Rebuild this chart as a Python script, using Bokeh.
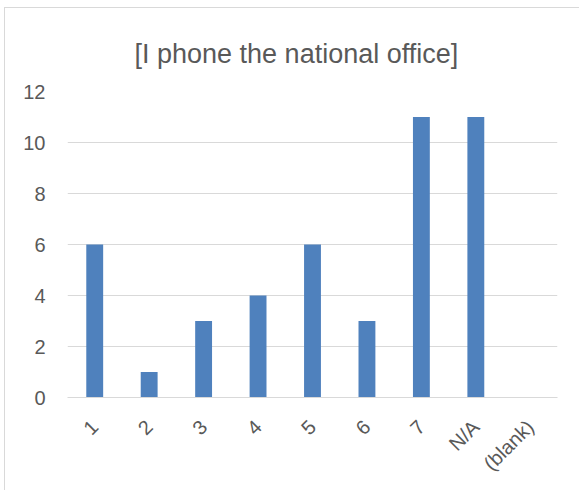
import math
import numpy as np
from bokeh.plotting import figure
from bokeh.models import ColumnDataSource, FixedTicker, Range1d
from bokeh.embed import file_html
from bokeh.resources import INLINE

# Responses to "[I phone the national office]"
categories = ["1", "2", "3", "4", "5", "6", "7", "N/A", "(blank)"]
counts = [6, 1, 3, 4, 6, 3, 11, 11, None]  # "(blank)" has no responses recorded
y_ticks = [0, 2, 4, 6, 8, 10, 12]

TEXT = "#595959"
GRID = "#D9D9D9"
BAR = "#4F81BD"
FONT = "Liberation Sans"

source = ColumnDataSource(dict(
    cat=categories,
    n=np.array([np.nan if c is None else c for c in counts], dtype=float),
))

p = figure(
    x_range=categories,
    y_range=Range1d(0, 12),
    width=575, height=483,
    output_backend="svg",
    toolbar_location=None,
    min_border_left=62, min_border_right=23,
    min_border_top=83, min_border_bottom=94,
    title="[I phone the national office]",
)
p.margin = (7, 0, 0, 4)
p.styles = {"border-top": "1px solid #D9D9D9", "border-left": "1px solid #D9D9D9"}

p.vbar(x="cat", top="n", width=0.31, source=source,
       fill_color=BAR, line_color=None)

# title
p.title.text_font = FONT
p.title.text_font_size = "27px"
p.title.text_font_style = "normal"
p.title.text_color = TEXT
p.title.align = "left"
p.title.offset = 67
p.title.standoff = 46

p.outline_line_color = None
p.background_fill_color = "white"
p.border_fill_color = "white"

# value axis
p.yaxis.ticker = FixedTicker(ticks=y_ticks)
p.yaxis.axis_line_color = None
p.yaxis.major_tick_line_color = None
p.yaxis.minor_tick_line_color = None
p.yaxis.major_tick_out = 0
p.yaxis.major_tick_in = 0
p.yaxis.major_label_standoff = 22
p.yaxis.major_label_text_font = FONT
p.yaxis.major_label_text_font_size = "20px"
p.yaxis.major_label_text_color = TEXT

# category axis
p.xaxis.axis_line_color = GRID
p.xaxis.axis_line_width = 1
p.xaxis.major_tick_line_color = None
p.xaxis.minor_tick_line_color = None
p.xaxis.major_tick_out = 0
p.xaxis.major_tick_in = 0
p.xaxis.major_label_orientation = math.pi / 4
p.xaxis.major_label_standoff = 26
p.xaxis.major_label_text_font = FONT
p.xaxis.major_label_text_font_size = "20px"
p.xaxis.major_label_text_color = TEXT

p.xgrid.grid_line_color = None
p.ygrid.grid_line_color = GRID
p.ygrid.grid_line_width = 1

open("out.html", "w").write(file_html(p, INLINE))
